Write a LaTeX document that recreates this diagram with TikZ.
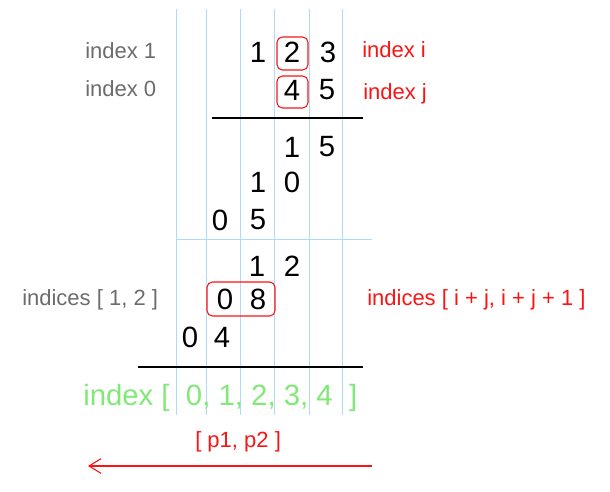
\documentclass[tikz,border=0pt]{standalone}
\usepackage{fontspec}
\setmainfont{Liberation Sans}
\usepackage{xcolor}
\usetikzlibrary{arrows.meta}

\definecolor{gridblue}{RGB}{175,220,245}
\definecolor{labelgray}{RGB}{108,108,108}
\definecolor{markred}{RGB}{250,20,20}
\definecolor{idxgreen}{RGB}{130,232,120}

\tikzset{
  digit/.style={inner sep=0pt, anchor=center, font=\fontsize{22}{26}\selectfont},
  graylabel/.style={inner sep=0pt, anchor=base west, text=labelgray, font=\fontsize{16.5}{20}\selectfont},
  redlabel/.style={inner sep=0pt, anchor=base west, text=markred, font=\fontsize{16.5}{20}\selectfont},
  greenlabel/.style={inner sep=0pt, anchor=base west, text=idxgreen, font=\fontsize{22}{26}\selectfont},
  gridline/.style={draw=gridblue, line width=0.6pt},
  sumline/.style={draw=black, line width=1.5pt},
  pickbox/.style={draw=markred, line width=0.8pt, rounded corners=4pt},
}

\begin{document}
\begin{tikzpicture}[x=0.75pt,y=0.75pt,yscale=-1,xscale=1]
  \useasboundingbox (0,0) rectangle (610,492);

  %Straight Lines [columns]
  \draw [gridline] (176,9) -- (176,415) ;
  \draw [gridline] (206,9) -- (206,415) ;
  \draw [gridline] (240,9) -- (240,415) ;
  \draw [gridline] (274,9) -- (274,415) ;
  \draw [gridline] (309,9) -- (309,415) ;
  \draw [gridline] (342,9) -- (342,415) ;
  %Straight Lines [row split]
  \draw [gridline] (176,239) -- (372,239) ;

  %Straight Lines [sum bars]
  \draw [sumline] (212,118) -- (363,118) ;
  \draw [sumline] (138,367) -- (363,367) ;

  %Shape: Rectangle [picked digits]
  \draw [pickbox] (277,37) rectangle (308,70) ;
  \draw [pickbox] (277,76) rectangle (308,108) ;
  \draw [pickbox] (207,282) rectangle (275,316) ;

  % Text Node [factors]
  \draw (258,52) node (numA) [digit] {1};
  \draw (292,52) node (numB) [digit] {2};
  \draw (328,52) node (numC) [digit] {3};
  \draw (292,90) node (mulA) [digit] {4};
  \draw (327,90) node (mulB) [digit] {5};

  % Text Node [partial products]
  \draw (292,147) node (prodCa) [digit] {1};
  \draw (327,147) node (prodCb) [digit] {5};
  \draw (258,182) node (prodBa) [digit] {1};
  \draw (292,182) node (prodBb) [digit] {0};
  \draw (220,220) node (prodAa) [digit] {0};
  \draw (258,220) node (prodAb) [digit] {5};
  \draw (257,266) node (prodDa) [digit] {1};
  \draw (292,266) node (prodDb) [digit] {2};
  \draw (225,299.5) node (prodEa) [digit] {0};
  \draw (258,299.5) node (prodEb) [digit] {8};
  \draw (190,337) node (prodFa) [digit] {0};
  \draw (222,337) node (prodFb) [digit] {4};

  % Text Node [left labels]
  \draw (85,59) node (idxOne) [graylabel] {index 1};
  \draw (85,96) node (idxZero) [graylabel] {index 0};
  \draw (22,305) node (idxPair) [graylabel] {indices [ 1, 2 ]};

  % Text Node [right labels]
  \draw (362,58) node (idxI) [redlabel] {index i};
  \draw (363,99) node (idxJ) [redlabel] {index j};
  \draw (367,305) node (idxSum) [redlabel] {indices [ i + j, i + j + 1 ]};
  \draw (195,447) node (posPair) [redlabel] {[ p1, p2 ]};

  % Text Node [result index]
  \draw (83,405) node (idxRow) [greenlabel] {index [~~0, 1, 2, 3, 4~~]};

  %Straight Lines [direction]
  \coordinate (dirStart) at (372,466);
  \coordinate (dirEnd) at (88,466);
  \draw [markred, line width=0.8pt, -{Straight Barb[length=9pt,width=11pt]}] (dirStart) -- (dirEnd) ;

\end{tikzpicture}
\end{document}
